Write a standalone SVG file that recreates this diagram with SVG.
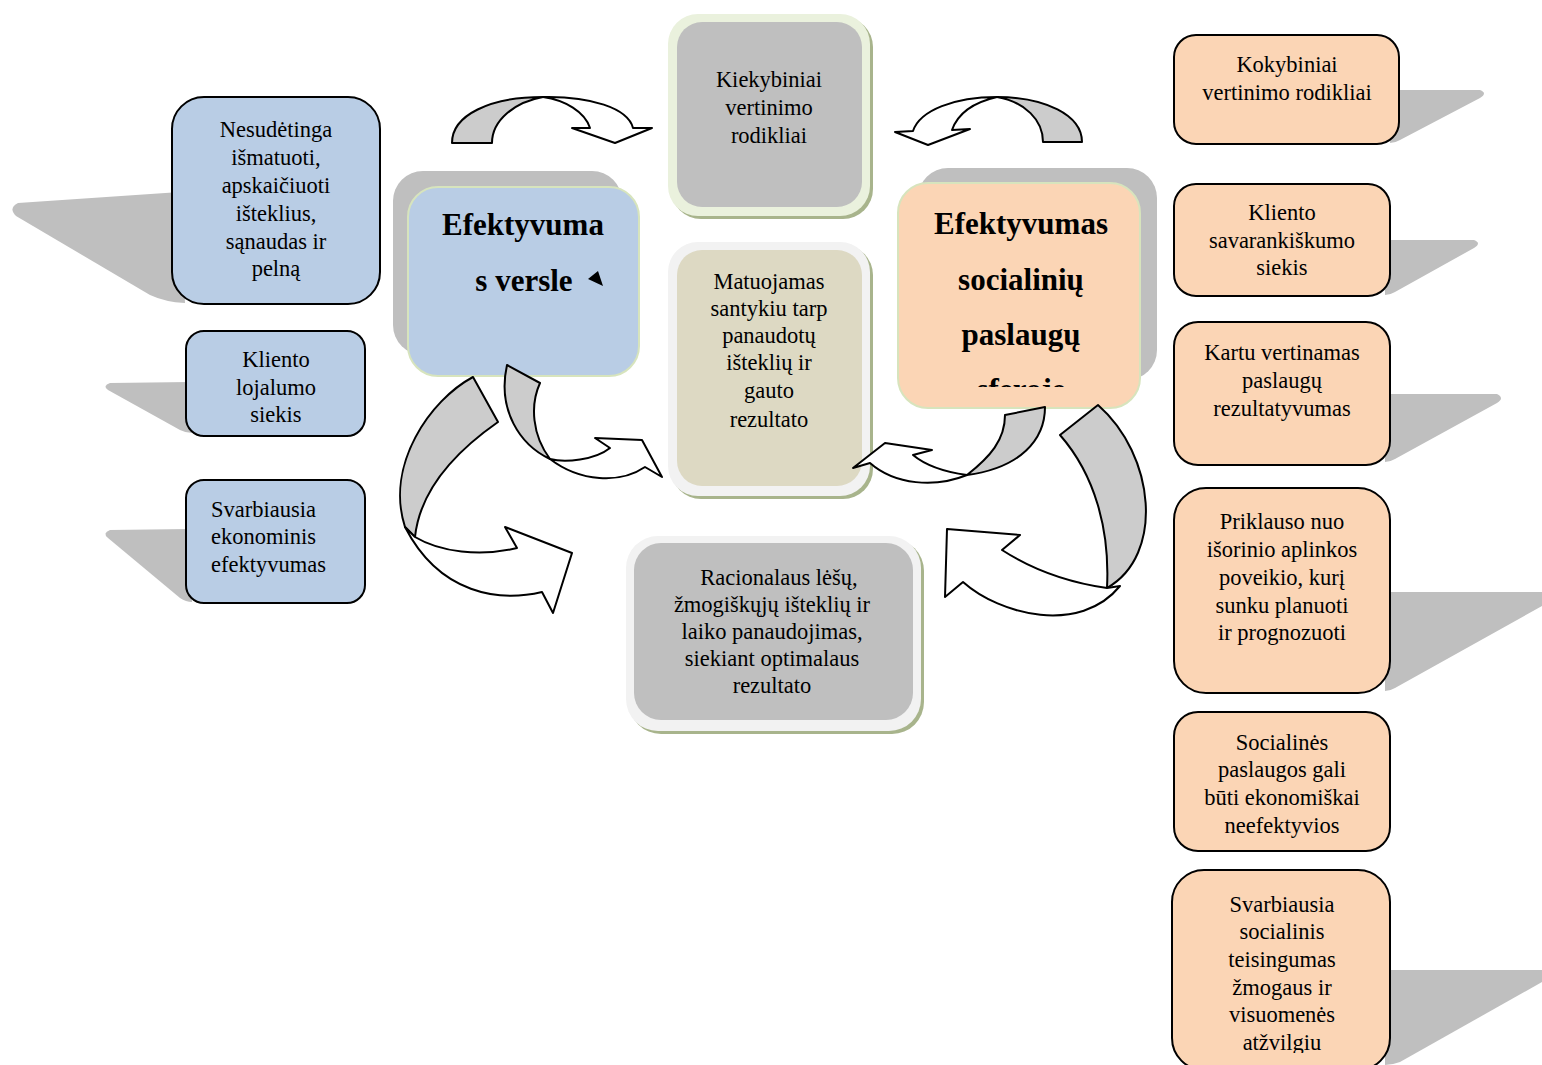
<svg xmlns="http://www.w3.org/2000/svg" width="1542" height="1065" viewBox="0 0 1542 1065">
<style>
text{font-family:"Liberation Serif","Times New Roman",serif;font-size:22.5px;fill:#000;text-anchor:middle}
.b{font-weight:bold;font-size:31px}
.blue{fill:#B9CDE5;stroke:#000;stroke-width:2}
.peach{fill:#FBD5B5;stroke:#000;stroke-width:2}
.sh{fill:#BFBFBF}
.ag{fill:#CCCCCC;stroke:#000;stroke-width:2;stroke-linejoin:round}
.aw{fill:#FFFFFF;stroke:#000;stroke-width:2;stroke-linejoin:round}
.frameshadow{fill:#A8B48C}
</style>
<defs>
<clipPath id="clipSoc"><rect x="898" y="183" width="242" height="204"/></clipPath>
<clipPath id="clipLast"><rect x="1172" y="870" width="220" height="183"/></clipPath>
</defs>
<rect width="1542" height="1065" fill="#fff"/>

<!-- left column -->
<g id="left1">
<path class="sh" d="M180,192 L18,203 Q8,208 16,216 L150,295 Q165,302 185,303 Z"/>
<rect class="blue" x="172" y="97" width="208" height="207" rx="32"/>
<text x="276" y="137">Nesudėtinga</text>
<text x="276" y="165">išmatuoti,</text>
<text x="276" y="193">apskaičiuoti</text>
<text x="276" y="221">išteklius,</text>
<text x="276" y="249">sąnaudas ir</text>
<text x="276" y="276">pelną</text>
</g>
<g id="left2">
<path class="sh" d="M190,382 L110,383 Q102,386 108,390 L180,430 Q186,433 192,433 Z"/>
<rect class="blue" x="186" y="331" width="179" height="105" rx="18"/>
<text x="276" y="367">Kliento</text>
<text x="276" y="395">lojalumo</text>
<text x="276" y="422">siekis</text>
</g>
<g id="left3">
<path class="sh" d="M190,529 L110,530 Q102,533 108,538 L180,598 Q186,602 192,602 Z"/>
<rect class="blue" x="186" y="480" width="179" height="123" rx="18"/>
<text x="211" y="517" style="text-anchor:start">Svarbiausia</text>
<text x="211" y="544" style="text-anchor:start">ekonominis</text>
<text x="211" y="572" style="text-anchor:start">efektyvumas</text>
</g>

<!-- center -->
<g id="versle">
<rect class="sh" x="393" y="171" width="229" height="184" rx="30"/>
<rect x="408" y="187" width="231" height="189" rx="30" fill="#B9CDE5" stroke="#D7E4BD" stroke-width="2"/>
<text class="b" x="523" y="235">Efektyvuma</text>
<text class="b" x="524" y="291">s versle</text>
<path d="M588,279 L598,271 L603,286 Z" fill="#000"/>
</g>
<g id="kiekybiniai">
<rect class="frameshadow" x="671" y="17" width="202" height="202" rx="30"/>
<rect x="668" y="14" width="202" height="202" rx="30" fill="#EAF1DD"/>
<rect x="677" y="22" width="185" height="185" rx="25" fill="#BFBFBF"/>
<text x="769" y="87">Kiekybiniai</text>
<text x="769" y="115">vertinimo</text>
<text x="769" y="143">rodikliai</text>
</g>
<g id="matuojamas">
<rect class="frameshadow" x="671" y="245" width="202" height="254" rx="30"/>
<rect x="668" y="242" width="202" height="254" rx="30" fill="#F2F2F2"/>
<rect x="677" y="250" width="185" height="236" rx="25" fill="#DDD9C3"/>
<text x="769" y="289">Matuojamas</text>
<text x="769" y="316">santykiu tarp</text>
<text x="769" y="343">panaudotų</text>
<text x="769" y="370">išteklių ir</text>
<text x="769" y="398">gauto</text>
<text x="769" y="427">rezultato</text>
</g>
<g id="racionalaus">
<rect class="frameshadow" x="629" y="539" width="295" height="195" rx="32"/>
<rect x="626" y="536" width="295" height="195" rx="32" fill="#F2F2F2"/>
<rect x="634" y="543" width="279" height="177" rx="27" fill="#BFBFBF"/>
<text x="779" y="585">Racionalaus lėšų,</text>
<text x="772" y="612">žmogiškųjų išteklių ir</text>
<text x="772" y="639">laiko panaudojimas,</text>
<text x="772" y="666">siekiant optimalaus</text>
<text x="772" y="693">rezultato</text>
</g>
<g id="socialiniu">
<rect class="sh" x="918" y="168" width="239" height="212" rx="30"/>
<rect x="898" y="183" width="242" height="225" rx="30" fill="#FBD5B5" stroke="#D7E4BD" stroke-width="2"/>
<g clip-path="url(#clipSoc)">
<text class="b" x="1021" y="234">Efektyvumas</text>
<text class="b" x="1021" y="290">socialinių</text>
<text class="b" x="1021" y="345">paslaugų</text>
<text class="b" x="1021" y="400">sferoje</text>
</g>
</g>

<!-- right column -->
<g id="right1">
<path class="sh" d="M1395,90 L1480,90 Q1488,93 1480,98 L1400,140 Q1395,143 1390,143 Z"/>
<rect class="peach" x="1174" y="35" width="225" height="109" rx="22"/>
<text x="1287" y="72">Kokybiniai</text>
<text x="1287" y="100">vertinimo rodikliai</text>
</g>
<g id="right2">
<path class="sh" d="M1385,240 L1474,240 Q1482,243 1474,248 L1395,292 Q1390,295 1385,295 Z"/>
<rect class="peach" x="1174" y="184" width="216" height="112" rx="22"/>
<text x="1282" y="220">Kliento</text>
<text x="1282" y="248">savarankiškumo</text>
<text x="1282" y="275">siekis</text>
</g>
<g id="right3">
<path class="sh" d="M1385,394 L1497,394 Q1505,398 1497,403 L1395,459 Q1390,462 1385,462 Z"/>
<rect class="peach" x="1174" y="322" width="216" height="143" rx="24"/>
<text x="1282" y="360">Kartu vertinamas</text>
<text x="1282" y="388">paslaugų</text>
<text x="1282" y="416">rezultatyvumas</text>
</g>
<g id="right4">
<path class="sh" d="M1385,592 L1542,592 L1542,606 L1395,688 Q1390,691 1385,691 Z"/>
<rect class="peach" x="1174" y="488" width="216" height="205" rx="32"/>
<text x="1282" y="529">Priklauso nuo</text>
<text x="1282" y="557">išorinio aplinkos</text>
<text x="1282" y="585">poveikio, kurį</text>
<text x="1282" y="613">sunku planuoti</text>
<text x="1282" y="640">ir prognozuoti</text>
</g>
<g id="right5">
<rect class="peach" x="1174" y="712" width="216" height="139" rx="24"/>
<text x="1282" y="750">Socialinės</text>
<text x="1282" y="777">paslaugos gali</text>
<text x="1282" y="805">būti ekonomiškai</text>
<text x="1282" y="833">neefektyvios</text>
</g>
<g id="right6">
<path class="sh" d="M1385,970 L1542,970 L1542,982 L1400,1062 Q1392,1065 1385,1065 Z"/>
<rect class="peach" x="1172" y="870" width="218" height="200" rx="32"/>
<g clip-path="url(#clipLast)">
<text x="1282" y="912">Svarbiausia</text>
<text x="1282" y="939">socialinis</text>
<text x="1282" y="967">teisingumas</text>
<text x="1282" y="995">žmogaus ir</text>
<text x="1282" y="1022">visuomenės</text>
<text x="1282" y="1050">atžvilgiu</text>
</g>
</g>

<!-- connectors -->
<g id="connectors">
<path class="ag" d="M452,143 C452,115 490,97 543,97 C515,102 492,120 492,143 Z"/>
<path class="aw" d="M543,97 C590,96 628,108 633,128 L652,128 L615,143 L572,128 L590,128 C585,112 565,100 543,97 Z"/>
<path class="ag" d="M1082,142 C1082,115 1045,97 997,97 C1025,102 1043,120 1043,142 Z"/>
<path class="aw" d="M997,97 C955,97 920,110 913,131 L895,132 L928,145 L970,129 L952,130 C958,113 975,102 997,97 Z"/>
<path class="ag" d="M507,365 L540,383 C530,405 532,435 550,459 C520,445 497,410 507,365 Z"/>
<path class="aw" d="M550,459 C565,463 595,460 610,448 L595,438 L642,440 L662,477 L645,467 C620,484 580,482 550,459 Z"/>
<path class="ag" d="M473,377 L498,422 C455,452 420,490 415,537 L405,527 C385,465 430,400 473,377 Z"/>
<path class="aw" d="M415,537 C440,552 480,557 517,548 L505,527 L572,553 L553,613 L542,592 C500,602 440,595 405,527 Z"/>
<path class="ag" d="M1005,415 L1045,407 C1045,440 1020,468 967,475 C990,457 1005,440 1005,415 Z"/>
<path class="aw" d="M967,475 C945,472 925,465 913,455 L932,450 L885,443 L853,468 L870,463 C895,485 935,488 967,475 Z"/>
<path class="ag" d="M1060,435 L1098,405 C1155,455 1165,555 1107,588 C1110,530 1095,475 1060,435 Z"/>
<path class="aw" d="M1107,588 C1065,582 1030,568 1002,550 L1020,535 L947,529 L945,597 L963,582 C1000,615 1080,635 1120,586 Z"/>
</g>
</svg>
